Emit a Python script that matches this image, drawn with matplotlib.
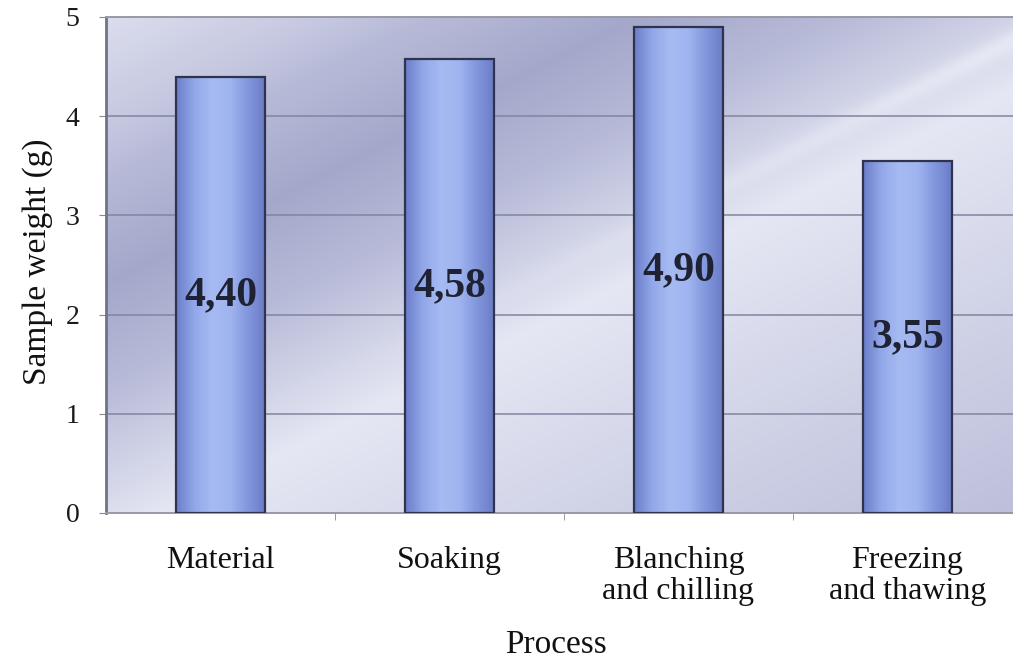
import numpy as np
import matplotlib.pyplot as plt
from matplotlib.colors import LinearSegmentedColormap

processes = ["Material", "Soaking", "Blanching\nand chilling", "Freezing\nand thawing"]
weights = [4.40, 4.58, 4.90, 3.55]
y_ticks = [0, 1, 2, 3, 4, 5]

W, H, DPI = 1013, 659, 100
SERIF = ["Liberation Serif", "DejaVu Serif"]

fig = plt.figure(figsize=(W / DPI, H / DPI), dpi=DPI, facecolor="white")
ax = fig.add_axes([106 / W, 1 - 513 / H, 916 / W, 496 / H])

x = np.arange(len(processes))
ax.set_xlim(-0.5, len(processes) - 0.5)
ax.set_ylim(0, 5)

# plot area: bluish-grey background with diagonal light/dark bands
nx, ny = 460, 250
gx, gy = np.meshgrid(np.linspace(0, 916, nx), np.linspace(496, 0, ny))
d = gy - 0.5 * gx
shade = np.interp(d, [-460, -260, -30, 110, 230, 380, 500],
                     [0.55, 0.72, 0.93, 0.55, 0.22, 0.62, 0.85])
# thin bright streak towards the upper right
shade += 0.15 * np.exp(-((d - 20) / 12) ** 2) * (gx / 916) ** 2
shade = np.clip(shade, 0, 1)
bg_cmap = LinearSegmentedColormap.from_list("bg", ["#9599c0", "#b7bad7", "#eceef8"])
ax.imshow(shade, cmap=bg_cmap, vmin=0, vmax=1, aspect="auto",
          extent=(-0.5, len(processes) - 0.5, 0, 5), zorder=0, interpolation="bilinear")

ax.set_yticks(y_ticks)
ax.yaxis.grid(True, color="#80859f", linewidth=1.1, zorder=1)
ax.set_axisbelow(True)

# bars with a soft horizontal cylinder shading
bar_w = 0.39
bars = ax.bar(x, weights, width=bar_w, color="#98ade9", zorder=3, linewidth=0)
bar_cmap = LinearSegmentedColormap.from_list(
    "bar", ["#6b7dca", "#92a7e8", "#a6bbf2", "#a0b5f0", "#8297dc", "#6a7bc6"])
grad = np.linspace(0, 1, 200)[None, :]
for rect in bars:
    x0, w, h = rect.get_x(), rect.get_width(), rect.get_height()
    im = ax.imshow(grad, cmap=bar_cmap, aspect="auto", extent=(x0, x0 + w, 0, h),
                   zorder=3.5, interpolation="bilinear")
    im.set_clip_path(rect)
ax.bar(x, weights, width=bar_w, fill=False, edgecolor="#2f344c", linewidth=1.6, zorder=4)

for xi, v in zip(x, weights):
    ax.text(xi, v / 2, f"{v:.2f}".replace(".", ","), ha="center", va="center",
            fontsize=30, fontweight="bold", family=SERIF, color="#1f2233", zorder=5)

ax.set_xlim(-0.5, len(processes) - 0.5)
ax.set_ylim(0, 5)

ax.set_xticks(x)
ax.set_xticklabels(processes, family=SERIF, fontsize=23, linespacing=1.05, color="#111111")
ax.set_xticks(x[:-1] + 0.5, minor=True)
ax.tick_params(axis="x", which="major", length=0, pad=24)
ax.tick_params(axis="x", which="minor", length=5, color="#8a8a8a", direction="out")
ax.tick_params(axis="y", length=5, color="#8a8a8a", pad=14, labelsize=20)
for lab in ax.get_yticklabels():
    lab.set_family(SERIF)
    lab.set_color("#1a1a1a")

for side in ("top", "bottom"):
    ax.spines[side].set_color("#9a9aa6")
    ax.spines[side].set_linewidth(1.4)
ax.spines["left"].set_color("#6f7388")
ax.spines["left"].set_linewidth(2.0)
ax.spines["right"].set_visible(False)

fig.text(556 / W, 1 - 645 / H, "Process", ha="center", va="center",
         family=SERIF, fontsize=24, color="#111111")
fig.text(38 / W, 1 - 262 / H, "Sample weight (g)", ha="center", va="center",
         rotation=90, family=SERIF, fontsize=24, color="#111111")

fig.savefig("out.png", dpi=DPI, facecolor="white")
